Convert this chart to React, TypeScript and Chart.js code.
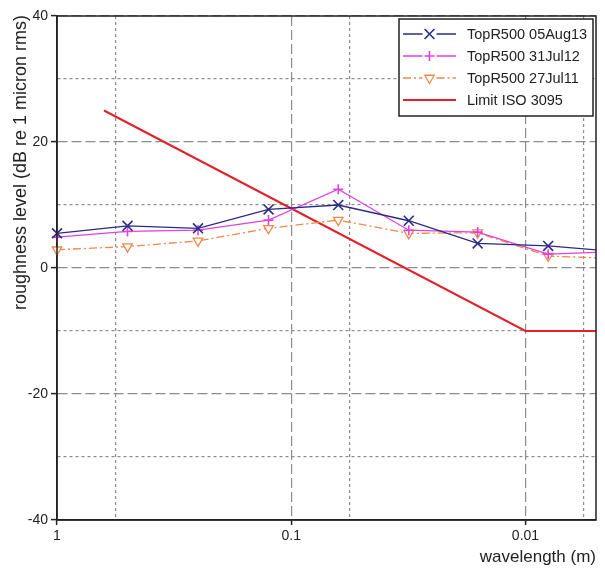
import React, { useEffect, useRef } from "react";
import { Chart, registerables } from "chart.js";
Chart.register(...registerables);

const FONT = "'Liberation Sans', Arial, Helvetica, sans-serif";

// Octave-band wavelengths (m)
const wavelengths = [1, 0.5, 0.25, 0.125, 0.063, 0.0315, 0.016, 0.008, 0.004];
const levelsAug13 = [5.5, 6.7, 6.3, 9.3, 10.0, 7.5, 3.9, 3.5, 2.6];
const levelsJul12 = [4.9, 5.8, 6.0, 7.6, 12.5, 6.0, 5.7, 2.2, 2.6];
const levelsJul11 = [2.9, 3.4, 4.3, 6.3, 7.6, 5.5, 5.6, 1.9, 1.5];
const limitWavelengths = [0.63, 0.01, 0.004];
const limitLevels = [25, -10, -10];

const seriesNames = ["TopR500 05Aug13", "TopR500 31Jul12", "TopR500 27Jul11", "Limit ISO 3095"];

const xGridTicks = [1, 0.5623, 0.1, 0.05623, 0.01, 0.005623];
const xLabelTicks = [1, 0.1, 0.01];
const xMin = 0.005;
const xMax = 1;
const yMin = -40;
const yMax = 40;
const yStep = 10;
const yLabelStep = 20;

const xTitle = "wavelength (m)";
const yTitle = "roughness level (dB re 1 micron rms)";

const isMajorX = (v: number) =>
  xLabelTicks.some((t) => Math.abs(Math.log10(v) - Math.log10(t)) < 1e-6);
const isMajorY = (v: number) => Math.abs(v % yLabelStep) < 1e-9;

function drawMarker(ctx: CanvasRenderingContext2D, style: string, x: number, y: number, r: number) {
  ctx.beginPath();
  if (style === "crossRot") {
    const d = r * Math.SQRT1_2;
    ctx.moveTo(x - d, y - d);
    ctx.lineTo(x + d, y + d);
    ctx.moveTo(x - d, y + d);
    ctx.lineTo(x + d, y - d);
    ctx.stroke();
  } else if (style === "cross") {
    ctx.moveTo(x - r, y);
    ctx.lineTo(x + r, y);
    ctx.moveTo(x, y - r);
    ctx.lineTo(x, y + r);
    ctx.stroke();
  } else if (style === "triangle") {
    ctx.moveTo(x, y + r);
    ctx.lineTo(x - r * 0.866, y - r / 2);
    ctx.lineTo(x + r * 0.866, y - r / 2);
    ctx.closePath();
    ctx.fillStyle = "#fff";
    ctx.fill();
    ctx.stroke();
  }
}

export default function App() {
  const ref = useRef<HTMLCanvasElement>(null);

  useEffect(() => {
    document.body.style.margin = "0";
    const canvas = ref.current!;
    const pts = (xs: number[], ys: number[]) => xs.map((x, i) => ({ x, y: ys[i] }));
    const clip = { left: 10, top: 10, right: 0, bottom: 10 };

    const framePlugin = {
      id: "frame",
      afterDatasetsDraw(chart: any) {
        const { ctx, chartArea: a } = chart;
        ctx.save();
        ctx.strokeStyle = "#222";
        ctx.lineWidth = 1.5;
        ctx.setLineDash([]);
        ctx.strokeRect(a.left, a.top, a.right - a.left, a.bottom - a.top);
        ctx.restore();
      },
    };

    const titlePlugin = {
      id: "titles",
      afterDraw(chart: any) {
        const { ctx, chartArea: a } = chart;
        ctx.save();
        ctx.fillStyle = "#222";
        ctx.font = `17px ${FONT}`;
        ctx.textBaseline = "middle";
        ctx.textAlign = "right";
        ctx.fillText(xTitle, a.right, 557);
        ctx.font = `18px ${FONT}`;
        ctx.translate(21, a.top - 1);
        ctx.rotate(-Math.PI / 2);
        ctx.textAlign = "right";
        ctx.fillText(yTitle, 0, 0);
        ctx.restore();
      },
    };

    const legendPlugin = {
      id: "customLegend",
      afterDraw(chart: any) {
        const { ctx, chartArea: a } = chart;
        const w = 194;
        const h = 97;
        const x0 = a.right - 3 - w;
        const y0 = a.top + 3;
        ctx.save();
        ctx.fillStyle = "#fff";
        ctx.fillRect(x0, y0, w, h);
        ctx.strokeStyle = "#222";
        ctx.lineWidth = 1.5;
        ctx.setLineDash([]);
        ctx.strokeRect(x0, y0, w, h);
        chart.data.datasets.forEach((ds: any, i: number) => {
          const cy = y0 + 15 + i * 22;
          const lx1 = x0 + 4;
          const lx2 = x0 + 57;
          const mx = (lx1 + lx2) / 2;
          ctx.strokeStyle = ds.borderColor;
          ctx.lineWidth = ds.borderWidth;
          ctx.setLineDash(ds.borderDash || []);
          ctx.beginPath();
          if (ds.pointRadius > 0) {
            ctx.moveTo(lx1, cy);
            ctx.lineTo(mx - 7, cy);
            ctx.moveTo(mx + 7, cy);
            ctx.lineTo(lx2, cy);
          } else {
            ctx.moveTo(lx1, cy);
            ctx.lineTo(lx2, cy);
          }
          ctx.stroke();
          ctx.setLineDash([]);
          if (ds.pointRadius > 0) {
            ctx.lineWidth = ds.pointBorderWidth;
            drawMarker(ctx, ds.pointStyle, mx, cy, ds.pointRadius);
          }
          ctx.fillStyle = "#222";
          ctx.font = `14.5px ${FONT}`;
          ctx.textAlign = "left";
          ctx.textBaseline = "middle";
          ctx.fillText(ds.label, x0 + 68, cy + 1);
        });
        ctx.restore();
      },
    };

    const chart = new Chart(canvas, {
      type: "line",
      data: {
        datasets: [
          {
            label: seriesNames[0],
            data: pts(wavelengths, levelsAug13),
            borderColor: "#2b2b86",
            backgroundColor: "#2b2b86",
            borderWidth: 1.3,
            pointStyle: "crossRot",
            pointRadius: 7,
            pointBorderWidth: 1.6,
            pointBorderColor: "#2b2b86",
            clip,
          },
          {
            label: seriesNames[1],
            data: pts(wavelengths, levelsJul12),
            borderColor: "#e040e0",
            backgroundColor: "#e040e0",
            borderWidth: 1.3,
            pointStyle: "cross",
            pointRadius: 5,
            pointBorderWidth: 1.6,
            pointBorderColor: "#e040e0",
            clip,
          },
          {
            label: seriesNames[2],
            data: pts(wavelengths, levelsJul11),
            borderColor: "#f0884a",
            backgroundColor: "#ffffff",
            borderWidth: 1.3,
            borderDash: [8, 3, 2, 3],
            pointStyle: "triangle",
            rotation: 180,
            pointRadius: 5.5,
            pointBorderWidth: 1.3,
            pointBorderColor: "#f0884a",
            pointBackgroundColor: "#ffffff",
            clip,
          },
          {
            label: seriesNames[3],
            data: pts(limitWavelengths, limitLevels),
            borderColor: "#e3202a",
            backgroundColor: "#e3202a",
            borderWidth: 2,
            pointRadius: 0,
            clip,
          },
        ] as any,
      },
      options: {
        animation: false,
        responsive: false,
        maintainAspectRatio: false,
        layout: { padding: { top: 16, right: 9, bottom: 0, left: 0 } },
        plugins: { legend: { display: false }, tooltip: { enabled: false } },
        scales: {
          x: {
            type: "logarithmic",
            reverse: true,
            min: xMin,
            max: xMax,
            afterBuildTicks: (s: any) => {
              s.ticks = xGridTicks.map((v) => ({ value: v }));
            },
            afterFit: (s: any) => {
              s.height = 51;
            },
            ticks: {
              autoSkip: false,
              maxRotation: 0,
              padding: 3,
              color: "#222",
              font: { family: FONT, size: 14 },
              callback: (v: any) => (isMajorX(Number(v)) ? String(Number(v)) : ""),
            },
            grid: {
              color: "#8c8c8c",
              lineWidth: 1.2,
              tickLength: 5,
              tickWidth: 1.5,
              tickColor: (c: any) => (c.tick && isMajorX(c.tick.value) ? "#222" : "rgba(0,0,0,0)"),
            },
            border: {
              color: "#222",
              width: 1.5,
              dash: (c: any) => (c.tick ? (isMajorX(c.tick.value) ? [10, 4] : [3, 3]) : []),
            },
          },
          y: {
            type: "linear",
            min: yMin,
            max: yMax,
            afterFit: (s: any) => {
              s.width = 57;
            },
            ticks: {
              stepSize: yStep,
              autoSkip: false,
              padding: 3,
              color: "#222",
              font: { family: FONT, size: 14 },
              callback: (v: any) => (isMajorY(Number(v)) ? String(Number(v)) : ""),
            },
            grid: {
              color: "#8c8c8c",
              lineWidth: 1.2,
              tickLength: 6,
              tickWidth: 1.5,
              tickColor: (c: any) => (c.tick && isMajorY(c.tick.value) ? "#222" : "rgba(0,0,0,0)"),
            },
            border: {
              color: "#222",
              width: 1.5,
              dash: (c: any) => (c.tick ? (isMajorY(c.tick.value) ? [10, 4] : [3, 3]) : []),
            },
          },
        },
      } as any,
      plugins: [framePlugin, titlePlugin, legendPlugin],
    });

    return () => chart.destroy();
  }, []);

  return (
    <div style={{ width: 605, height: 571 }}>
      <canvas ref={ref} width={605} height={571} style={{ display: "block" }} />
    </div>
  );
}
